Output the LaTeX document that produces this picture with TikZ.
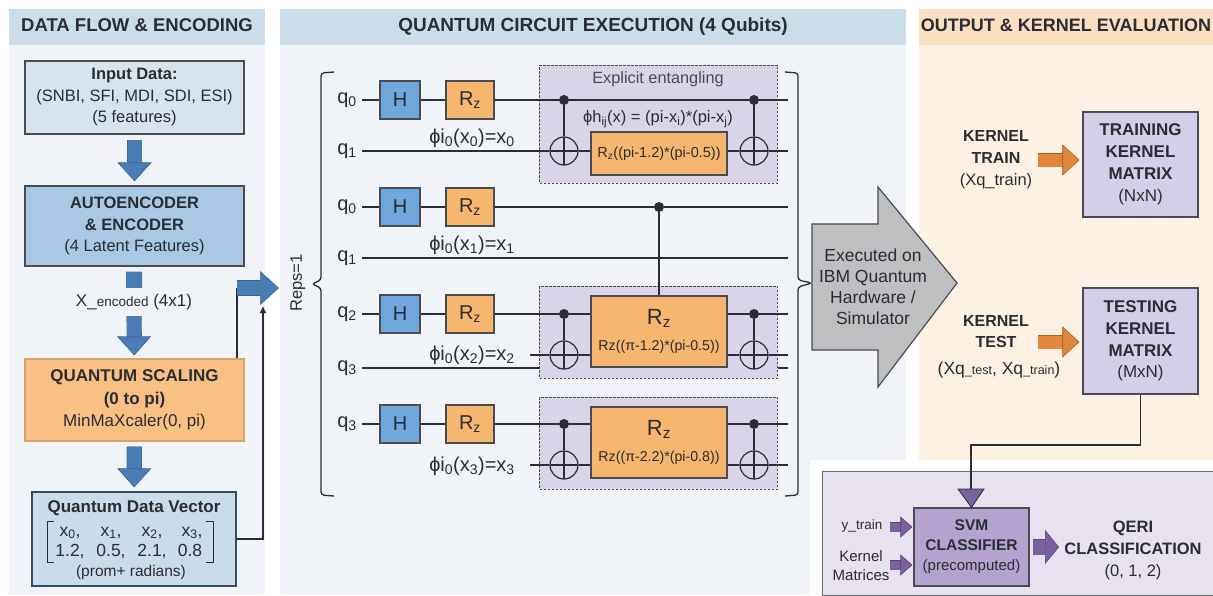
\documentclass[tikz,border=0pt]{standalone}
\usepackage{fontspec}
\setmainfont{Liberation Sans}
\usetikzlibrary{arrows.meta}
\definecolor{bodyblue}{HTML}{F0F4F9}
\definecolor{headblue}{HTML}{CCDDEA}
\definecolor{bodyorange}{HTML}{FDF1E4}
\definecolor{headorange}{HTML}{FBDFC3}
\definecolor{inputblue}{HTML}{D7E4EE}
\definecolor{encblue}{HTML}{A9C8E3}
\definecolor{vecblue}{HTML}{CADBE9}
\definecolor{scaleorange}{HTML}{F9C083}
\definecolor{gateblue}{HTML}{6FA6DB}
\definecolor{gateorange}{HTML}{F6B66F}
\definecolor{entpurple}{HTML}{DAD4E8}
\definecolor{matpurple}{HTML}{D4CEE8}
\definecolor{svmpurple}{HTML}{B5A3CF}
\definecolor{svmback}{HTML}{E8E2F0}
\definecolor{arrowblue}{HTML}{4A7DB6}
\definecolor{arroworange}{HTML}{E3853A}
\definecolor{arrowpurple}{HTML}{7A619F}
\definecolor{grayarrow}{HTML}{BDBFC0}
\definecolor{inkdark}{HTML}{2A2D33}
\tikzset{
  hdr/.style={font=\bfseries\fontsize{18}{20}\selectfont, text=inkdark, minimum height=36pt, inner sep=0pt, text height=13pt, text depth=4pt},
  flowbox/.style={draw=inkdark!85, line width=1.2pt, inner sep=0pt, align=center, text=inkdark, font=\fontsize{16.5}{21.5}\selectfont},
  txt/.style={inner sep=0pt, align=center, text=inkdark, font=\fontsize{16.5}{21.5}\selectfont},
  vecitem/.style={inner sep=0pt, text=inkdark, text height=12pt, text depth=4pt, font=\fontsize{17.5}{19}\selectfont},
  gate/.style={draw=inkdark!85, line width=1.2pt, inner sep=0pt, text=inkdark, minimum height=38pt, font=\fontsize{20}{22}\selectfont},
  qlab/.style={inner sep=0pt, text=inkdark, text height=10pt, text depth=4pt, font=\fontsize{20}{22}\selectfont},
  entbox/.style={draw=inkdark!85, line width=1pt, dash pattern=on 2.5pt off 1.5pt, fill=entpurple, minimum width=238pt, inner sep=0pt},
  wire/.style={line width=1.3pt, draw=inkdark},
  ctrl/.style={circle, fill=inkdark, inner sep=0pt, minimum size=10pt},
  target/.style={circle, draw=inkdark, line width=1.2pt, inner sep=0pt, minimum size=28pt, path picture={
    \draw[line width=1.2pt] (path picture bounding box.north) -- (path picture bounding box.south);
    \draw[line width=1.2pt] (path picture bounding box.west) -- (path picture bounding box.east);}},
  blockarrow/.style={-{Triangle[length=19pt,width=34pt,fill=arrowblue,line width=.6pt]}, draw=arrowblue!80!black, line width=.6pt, double=arrowblue, double distance=14pt, shorten <=5pt, shorten >=4pt},
  orangearrow/.style={-{Triangle[length=17pt,width=31pt,fill=arroworange,line width=.6pt]}, draw=arroworange!70!black, line width=.6pt, double=arroworange, double distance=13pt, shorten >=3pt},
  purplearrow/.style={-{Triangle[length=12pt,width=21pt,fill=arrowpurple,line width=.6pt]}, draw=arrowpurple!70!black, line width=.6pt, double=arrowpurple, double distance=9pt},
}
\begin{document}
\begin{tikzpicture}[x=1pt,y=-1pt]
\useasboundingbox (0,0) rectangle (1213,595);
\fill[white] (0,0) rectangle (1213,595);
\fill[bodyblue] (9,9) rectangle (265,595);
\fill[bodyblue] (280,9) rectangle (906,595);
\fill[bodyorange] (919,9) rectangle (1213,460);
\fill[white] (810,460) rectangle (1213,595);
\node[hdr, fill=headblue, minimum width=256pt, font=\bfseries\fontsize{18.5}{20}\selectfont] (hdata) at (137,27) {DATA FLOW \& ENCODING};
\node[hdr, fill=headblue, minimum width=626pt, font=\bfseries\fontsize{19}{20}\selectfont] (hquantum) at (593,27) {QUANTUM CIRCUIT EXECUTION (4 Qubits)};
\node[hdr, fill=headorange, minimum width=294pt] (houtput) at (1066,27) {OUTPUT \& KERNEL EVALUATION};
\node[flowbox, fill=inputblue, minimum width=219pt, minimum height=73pt] (input) at (134.5,97.5) {\textbf{Input Data:}\\(SNBI, SFI, MDI, SDI, ESI)\\(5 features)};
\node[flowbox, fill=encblue, minimum width=219pt, minimum height=80pt] (encoder) at (134.5,226) {\textbf{AUTOENCODER}\\\textbf{\& ENCODER}\\(4 Latent Features)};
\node[txt, font=\fontsize{17}{19}\selectfont] (xenc) at (134,302) {X\_{\fontsize{13.5}{15}\selectfont encoded} (4x1)};
\node[flowbox, fill=scaleorange, draw=scaleorange!85!black, minimum width=219pt, minimum height=82pt, font=\fontsize{17}{22.5}\selectfont] (scaling) at (134.5,400) {\textbf{QUANTUM SCALING}\\\textbf{(0 to pi)}\\MinMaXcaler(0, pi)};
\node[flowbox, fill=vecblue, draw=inkdark!60!arrowblue, minimum width=204pt, minimum height=94pt] (qvec) at (134,539) {};
\node[txt, font=\bfseries\fontsize{17}{19}\selectfont] (qvectitle) at (134,508) {Quantum Data Vector};
\node[vecitem] (v0) at (70,532) {x\textsubscript{0},};
\node[vecitem] (v1) at (111,532) {x\textsubscript{1},};
\node[vecitem] (v2) at (152,532) {x\textsubscript{2},};
\node[vecitem] (v3) at (192,532) {x\textsubscript{3},};
\node[vecitem] (w0) at (70,552) {1.2,};
\node[vecitem] (w1) at (111,552) {0.5,};
\node[vecitem] (w2) at (152,552) {2.1,};
\node[vecitem] (w3) at (190,552) {0.8};
\node[txt, font=\fontsize{15.5}{17}\selectfont] (radians) at (131,572) {(prom+ radians)};
\draw[line width=1pt, inkdark] (54,521) -- (47,521) -- (47,562) -- (54,562);
\draw[line width=1pt, inkdark] (206,521) -- (213,521) -- (213,562) -- (206,562);
\draw[blockarrow] (input) -- (encoder);
\path[line width=16pt, draw=arrowblue, shorten <=5pt, shorten >=6pt] (encoder) edge (xenc);
\draw[blockarrow, shorten <=6pt, shorten >=3pt] (xenc) -- (scaling);
\draw[blockarrow] (scaling) -- (qvec);
\coordinate (joinin) at (237,288);
\coordinate (jointip) at (279,288);
\coordinate (vecend) at (263,306);
\draw[wire] (scaling.north -| joinin) -- (joinin);
\draw[wire, -{Latex[length=7pt,width=7pt]}] (qvec.east) -| (vecend);
\draw[blockarrow, shorten <=0pt, shorten >=0pt] (joinin) -- (jointip);
\node[txt, rotate=90] (reps) at (298,283) {Reps=1};
\draw[line width=1.3pt, inkdark, rounded corners=3pt] (334,72) -- (321,73) -- (321,280) -- (312,284) -- (321,288) -- (321,495) -- (334,496);
\draw[line width=1.3pt, inkdark, rounded corners=3pt] (785,72) -- (798,73) -- (798,280) -- (812,283) -- (798,287) -- (798,495) -- (785,496);
\node[entbox, minimum height=118pt] (ent0) at (658.5,124) {};
\node[entbox, minimum height=92pt] (ent2) at (658.5,332) {};
\node[entbox, minimum height=92pt] (ent3) at (658.5,443) {};
\node[qlab] (q0a) at (347,100) {q\textsubscript{0}};
\node[qlab] (q1a) at (347,151) {q\textsubscript{1}};
\node[qlab] (q0b) at (347,207) {q\textsubscript{0}};
\node[qlab] (q1b) at (347,258) {q\textsubscript{1}};
\node[qlab] (q2c) at (347,314) {q\textsubscript{2}};
\node[qlab] (q3c) at (347,368) {q\textsubscript{3}};
\node[qlab] (q3d) at (347,424) {q\textsubscript{3}};
\coordinate (wa) at (362,100);
\coordinate (wb) at (362,151);
\coordinate (wc) at (362,207);
\coordinate (wd) at (362,258);
\coordinate (we) at (362,314);
\coordinate (wf) at (362,368);
\coordinate (wg) at (362,424);
\node[gate, fill=gateblue, minimum width=40pt] (ha) at (400,100) {H};
\node[gate, fill=gateblue, minimum width=40pt] (hb) at (400,207) {H};
\node[gate, fill=gateblue, minimum width=40pt] (hc) at (400,314) {H};
\node[gate, fill=gateblue, minimum width=40pt] (hd) at (400,424) {H};
\node[gate, fill=gateorange, minimum width=48pt] (ra) at (470,100) {R\textsubscript{z}};
\node[gate, fill=gateorange, minimum width=48pt] (rb) at (470,207) {R\textsubscript{z}};
\node[gate, fill=gateorange, minimum width=48pt] (rc) at (470,314) {R\textsubscript{z}};
\node[gate, fill=gateorange, minimum width=48pt] (rd) at (470,424) {R\textsubscript{z}};
\node[txt, font=\fontsize{20}{22}\selectfont] (phia) at (472,138) {ϕi\textsubscript{0}(x\textsubscript{0})=x\textsubscript{0}};
\node[txt, font=\fontsize{20}{22}\selectfont] (phib) at (472,245) {ϕi\textsubscript{0}(x\textsubscript{1})=x\textsubscript{1}};
\node[txt, font=\fontsize{20}{22}\selectfont] (phic) at (472,355) {ϕi\textsubscript{0}(x\textsubscript{2})=x\textsubscript{2}};
\node[txt, font=\fontsize{20}{22}\selectfont] (phid) at (472,466) {ϕi\textsubscript{0}(x\textsubscript{3})=x\textsubscript{3}};
\node[txt, text=inkdark!85, font=\fontsize{16.3}{18}\selectfont] (entlab) at (658,79) {Explicit entangling};
\node[txt, font=\fontsize{16.5}{18}\selectfont] (phih) at (658,119) {ϕh\textsubscript{ij}(x) = (pi-x\textsubscript{i})*(pi-x\textsubscript{j})};
\node[gate, fill=gateorange, minimum width=136pt, minimum height=43pt, font=\fontsize{14.5}{16}\selectfont] (rzz0) at (659,153.5) {R\textsubscript{z}((pi-1.2)*(pi-0.5))};
\node[gate, fill=gateorange, minimum width=136pt, minimum height=71pt, align=center, font=\fontsize{14.2}{26}\selectfont] (rzz2) at (659,331.5) {{\fontsize{22}{24}\selectfont R\textsubscript{z}}\\Rz((π-1.2)*(pi-0.5))};
\node[gate, fill=gateorange, minimum width=136pt, minimum height=71pt, align=center, font=\fontsize{14.2}{26}\selectfont] (rzz3) at (659,442.5) {{\fontsize{22}{24}\selectfont R\textsubscript{z}}\\Rz((π-2.2)*(pi-0.8))};
\node[ctrl] (c0l) at (564,100) {};
\node[ctrl] (c0r) at (754,100) {};
\node[ctrl] (c1m) at (659,207) {};
\node[ctrl] (c2l) at (564,314) {};
\node[ctrl] (c2r) at (754,314) {};
\node[ctrl] (c3l) at (564,424) {};
\node[ctrl] (c3r) at (754,424) {};
\node[target] (t0l) at (564,151) {};
\node[target] (t0r) at (754,151) {};
\node[target] (t2l) at (564,355) {};
\node[target] (t2r) at (754,355) {};
\node[target] (t3l) at (564,465) {};
\node[target] (t3r) at (754,465) {};
\coordinate (e0) at (788,100);
\coordinate (e1) at (788,151);
\coordinate (e2) at (788,207);
\coordinate (e3) at (788,258);
\coordinate (e4) at (788,314);
\coordinate (e5) at (788,355);
\coordinate (e6) at (788,424);
\coordinate (e7) at (788,465);
\coordinate (e8) at (788,368);
\coordinate (s2) at (530,355);
\coordinate (s3) at (530,465);
\path [wire] (wa) edge (ha);
\path [wire] (ha) edge (ra);
\path [wire] (ra) edge (c0l);
\path [wire] (c0l) edge (c0r);
\path [wire] (c0r) edge (e0);
\path [wire] (wb) edge (t0l);
\path [wire] (t0l) edge (t0l -| rzz0.west);
\path [wire] (t0r -| rzz0.east) edge (t0r);
\path [wire] (t0r) edge (e1);
\path [wire] (c0l) edge (t0l);
\path [wire] (c0r) edge (t0r);
\path [wire] (wc) edge (hb);
\path [wire] (hb) edge (rb);
\path [wire] (rb) edge (c1m);
\path [wire] (c1m) edge (e2);
\path [wire] (wd) edge (e3);
\path [wire] (c1m) edge (c1m |- rzz2.north);
\path [wire] (we) edge (hc);
\path [wire] (hc) edge (rc);
\path [wire] (rc) edge (c2l);
\path [wire] (c2l) edge (c2l -| rzz2.west);
\path [wire] (c2r -| rzz2.east) edge (c2r);
\path [wire] (c2r) edge (e4);
\path [wire] (s2) edge (t2l);
\path [wire] (t2l) edge (t2l -| rzz2.west);
\path [wire] (t2r -| rzz2.east) edge (t2r);
\path [wire] (t2r) edge (e5);
\path [wire] (c2l) edge (t2l);
\path [wire] (c2r) edge (t2r);
\path [wire] (wf) edge (wf -| ent2.west);
\path [wire] (ent2.east |- e8) edge (e8);
\path [wire] (wg) edge (hd);
\path [wire] (hd) edge (rd);
\path [wire] (rd) edge (c3l);
\path [wire] (c3l) edge (c3l -| rzz3.west);
\path [wire] (c3r -| rzz3.east) edge (c3r);
\path [wire] (c3r) edge (e6);
\path [wire] (s3) edge (t3l);
\path [wire] (t3l) edge (t3l -| rzz3.west);
\path [wire] (t3r -| rzz3.east) edge (t3r);
\path [wire] (t3r) edge (e7);
\path [wire] (c3l) edge (t3l);
\path [wire] (c3r) edge (t3r);
\draw[line width=1.2pt, draw=inkdark!85, fill=grayarrow] (812,224) -- (878,224) -- (878,187) -- (957,283) -- (878,387) -- (878,350) -- (812,350) -- cycle;
\node[txt, font=\fontsize{17.5}{21}\selectfont] (exec) at (873,287) {Executed on\\IBM Quantum\\Hardware /\\Simulator};
\node[txt, font=\bfseries\fontsize{16}{22}\selectfont] (ktrain) at (996,147) {KERNEL\\TRAIN};
\node[txt] (ktrainsub) at (996,181) {(Xq\_train)};
\node[txt, font=\bfseries\fontsize{16}{21}\selectfont] (ktest) at (996,332) {KERNEL\\TEST};
\node[txt, font=\fontsize{17.5}{19}\selectfont] (ktestsub) at (999,370) {(Xq{\fontsize{12.5}{14}\selectfont \_test}, Xq{\fontsize{12.5}{14}\selectfont \_train})};
\node[flowbox, fill=matpurple, minimum width=115pt, minimum height=105pt, font=\fontsize{17}{21.8}\selectfont] (trainmat) at (1140.5,164.5) {\textbf{TRAINING}\\\textbf{KERNEL}\\\textbf{MATRIX}\\(NxN)};
\node[flowbox, fill=matpurple, minimum width=115pt, minimum height=106pt, font=\fontsize{17}{21.8}\selectfont] (testmat) at (1140.5,341) {\textbf{TESTING}\\\textbf{KERNEL}\\\textbf{MATRIX}\\(MxN)};
\coordinate (ktrainout) at (1038,160);
\coordinate (ktestout) at (1038,342);
\draw[orangearrow] (ktrainout) -- (ktrainout -| trainmat.west);
\draw[orangearrow] (ktestout) -- (ktestout -| testmat.west);
\node[draw=gray!75!inkdark, line width=1pt, fill=svmback, minimum width=395pt, minimum height=124pt, inner sep=0pt] (svmback) at (1020,533) {};
\node[flowbox, fill=svmpurple, minimum width=115pt, minimum height=78pt, font=\fontsize{15.5}{20}\selectfont] (svm) at (971.5,547) {\textbf{SVM}\\\textbf{CLASSIFIER}\\{\fontsize{15}{18}\selectfont(precomputed)}};
\node[txt, font=\fontsize{13.5}{15}\selectfont] (ytrain) at (862,526) {y\_train};
\node[txt, font=\fontsize{15}{19}\selectfont] (kmat) at (861,566) {Kernel\\Matrices};
\node[txt, font=\fontsize{16.5}{22}\selectfont] (qeri) at (1133,550) {\textbf{QERI}\\\textbf{CLASSIFICATION}\\(0, 1, 2)};
\coordinate (yin) at (890,527);
\coordinate (kin) at (890,565);
\coordinate (bend) at (971,445);
\coordinate (svmout) at (1059,547);
\draw[purplearrow, shorten >=1pt] (yin) -- (yin -| svm.west);
\draw[purplearrow, shorten >=1pt] (kin) -- (kin -| svm.west);
\draw[purplearrow, -{Triangle[length=14pt,width=34pt,fill=arrowpurple,line width=.6pt]}, double distance=15pt, shorten <=3pt, shorten >=0pt] (svm.east) -- (svmout);
\draw[wire] (testmat.south) |- (bend) -- (971,490);
\draw[draw=inkdark, line width=.8pt, fill=arrowpurple] (958,489) -- (984,489) -- (svm.north) -- cycle;
\end{tikzpicture}
\end{document}
